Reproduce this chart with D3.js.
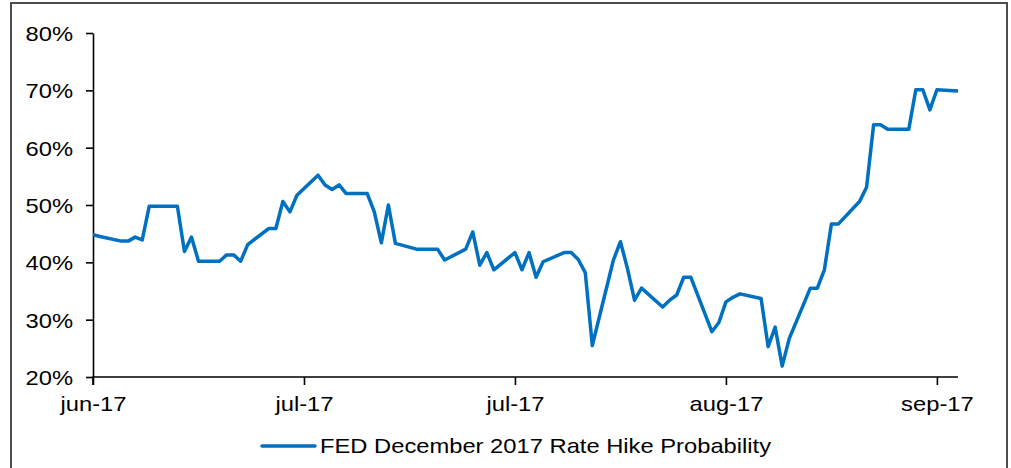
<!DOCTYPE html>
<html>
<head>
<meta charset="utf-8">
<script src="https://cdn.jsdelivr.net/npm/d3@7"></script>
<style>
  body { margin: 0; background: #fff; }
  text { font-family: "Liberation Sans", Arial, sans-serif; fill: #000; }
</style>
</head>
<body>
<div id="canvas"></div>
<script>
// data (business days, jun-oct 2017)
var dates = [
  "2017-06-01","2017-06-02","2017-06-05","2017-06-06","2017-06-07","2017-06-08","2017-06-09",
  "2017-06-12","2017-06-13","2017-06-14","2017-06-15","2017-06-16",
  "2017-06-19","2017-06-20","2017-06-21","2017-06-22","2017-06-23",
  "2017-06-26","2017-06-27","2017-06-28","2017-06-29","2017-06-30",
  "2017-07-03","2017-07-04","2017-07-05","2017-07-06","2017-07-07",
  "2017-07-10","2017-07-11","2017-07-12","2017-07-13","2017-07-14",
  "2017-07-17","2017-07-18","2017-07-19","2017-07-20","2017-07-21",
  "2017-07-24","2017-07-25","2017-07-26","2017-07-27","2017-07-28",
  "2017-07-31","2017-08-01","2017-08-02","2017-08-03","2017-08-04",
  "2017-08-07","2017-08-08","2017-08-09","2017-08-10","2017-08-11",
  "2017-08-14","2017-08-15","2017-08-16","2017-08-17","2017-08-18",
  "2017-08-21","2017-08-22","2017-08-23","2017-08-24","2017-08-25",
  "2017-08-28","2017-08-29","2017-08-30","2017-08-31","2017-09-01",
  "2017-09-04","2017-09-05","2017-09-06","2017-09-07","2017-09-08",
  "2017-09-11","2017-09-12","2017-09-13","2017-09-14","2017-09-15",
  "2017-09-18","2017-09-19","2017-09-20","2017-09-21","2017-09-22",
  "2017-09-25","2017-09-26","2017-09-27","2017-09-28","2017-09-29",
  "2017-10-02"
];
var probs = [
  44.8,44.5,43.7,43.7,44.4,43.9,49.8,
  49.8,49.8,41.9,44.4,40.2,
  40.2,41.3,41.3,40.2,43.1,
  45.9,45.9,50.6,48.8,51.7,
  55.2,53.5,52.7,53.5,52.0,
  52.0,48.8,43.4,50.0,43.3,
  42.3,42.3,42.3,42.3,40.4,
  42.3,45.3,39.5,41.7,38.7,
  41.7,38.7,41.7,37.4,40.1,
  41.7,41.7,40.5,38.2,25.5,
  40.4,43.6,38.9,33.4,35.5,
  32.2,33.4,34.3,37.4,37.4,
  27.9,29.5,33.1,33.9,34.5,
  33.7,25.3,28.7,21.9,26.7,
  35.5,35.5,38.7,46.7,46.7,
  50.6,53.1,64.0,64.0,63.2,
  63.2,70.1,70.1,66.6,70.1,
  69.9
];
var tickDates = ["2017-06-01","2017-07-01","2017-07-31","2017-08-30","2017-09-29"];
var tickLabels = ["jun-17","jul-17","jul-17","aug-17","sep-17"];
var yTicks = [0.2,0.3,0.4,0.5,0.6,0.7,0.8];
var seriesName = "FED December 2017 Rate Hike Probability";

var W = 1011, H = 468;
var m = {t:33, r:55, b:91, l:93},
    w = 956 - m.l,
    h = 377 - m.t;

var parseDate = d3.timeParse("%Y-%m-%d");
var data = dates.map(function(d, i) { return {date: parseDate(d), value: probs[i] / 100}; });

var svg = d3.select('#canvas').append('svg')
    .attr('width', W)
    .attr('height', H);

// outer frame
svg.append('rect')
    .attr('x', 11).attr('y', 3)
    .attr('width', 996).attr('height', 480)
    .attr('fill', 'none')
    .attr('stroke', '#4d4d4d')
    .attr('stroke-width', 2);

var plot = svg.append('g')
    .attr('transform', 'translate(' + m.l + ',' + m.t + ')');

var scaleX = d3.scaleTime()
    .domain([parseDate("2017-06-01"), parseDate("2017-10-02")])
    .range([0, w + 2]);

var scaleY = d3.scaleLinear()
    .domain([0.2, 0.8])
    .range([h, 0]);

var xAxis = d3.axisBottom(scaleX)
    .tickValues(tickDates.map(parseDate))
    .tickFormat(function(d, i) { return tickLabels[i]; })
    .tickSizeOuter(8)
    .tickSizeInner(8)
    .tickPadding(6);

var yAxis = d3.axisLeft(scaleY)
    .tickValues(yTicks)
    .tickFormat(d3.format('.0%'))
    .tickSizeOuter(0)
    .tickSizeInner(7)
    .tickPadding(13);

var gx = plot.append('g').call(xAxis)
    .attr('transform', 'translate(0,' + h + ')');
var gy = plot.append('g').call(yAxis);

[gx, gy].forEach(function(g) {
  g.selectAll('path, line').attr('stroke', '#000').attr('stroke-width', 1.6);
  g.selectAll('text').style('font-size', '21px').attr('fill', '#000');
});
gx.select('.domain').attr('d', 'M0,8V0H' + (w + 2));
gx.selectAll('text').attr('dy', '0.95em');
gy.selectAll('text').attr('dy', '0.35em');

var line = d3.line()
    .x(function(d) { return scaleX(d.date); })
    .y(function(d) { return scaleY(d.value); });

plot.append('path')
    .datum(data)
    .attr('d', line)
    .attr('fill', 'none')
    .attr('stroke', '#0070c0')
    .attr('stroke-width', 3.5)
    .attr('stroke-linejoin', 'round');

// legend
var lg = svg.append('g').attr('transform', 'translate(262,446)');
lg.append('line')
    .attr('x1', 0).attr('x2', 53)
    .attr('stroke', '#0070c0')
    .attr('stroke-width', 3.5)
    .attr('stroke-linecap', 'round');
lg.append('text')
    .attr('x', 58).attr('y', 7)
    .style('font-size', '21px')
    .text(seriesName);

// the original text is drawn a bit wider than the font
svg.selectAll('text').each(function() {
  var len = this.getComputedTextLength();
  d3.select(this)
    .attr('textLength', len * 1.13)
    .attr('lengthAdjust', 'spacingAndGlyphs');
});
</script>
</body>
</html>
